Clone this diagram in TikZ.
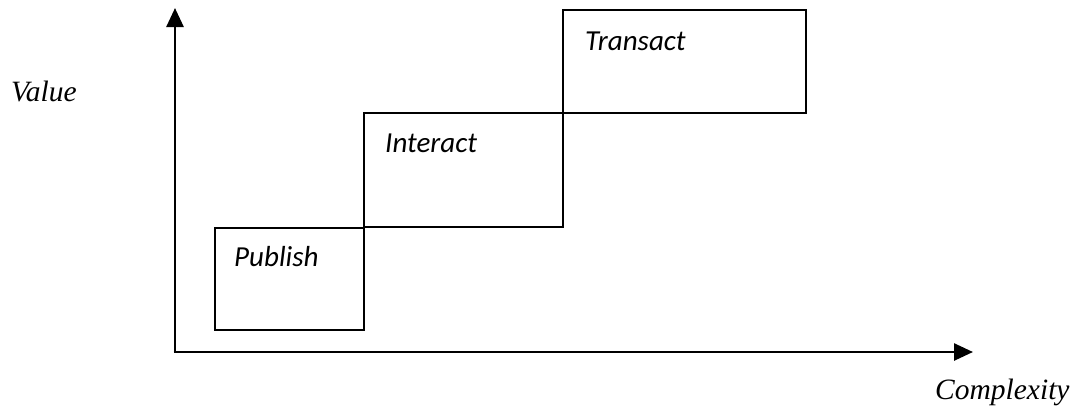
\documentclass[tikz,border=0pt]{standalone}
\usepackage{fontspec}
\setmainfont{Liberation Serif}
\newfontfamily\calib{Carlito}
\usetikzlibrary{arrows.meta}
\begin{document}
\begin{tikzpicture}[x=1pt,y=-1pt,
  axis/.style={line width=2.6pt,-{Triangle[length=19pt,width=17pt]}},
  stage/.style={draw,line width=2pt},
  stagelabel/.style={font=\calib\itshape\fontsize{29}{34}\selectfont,anchor=west,inner sep=0pt},
  axislabel/.style={font=\itshape\fontsize{29.5}{34}\selectfont,anchor=west,inner sep=0pt}]
\useasboundingbox (0,0) rectangle (1075,408);
\coordinate (O) at (175,352);
\coordinate (ytop) at (175,8);
\coordinate (xend) at (973,352);
\draw[stage] (215,228) rectangle (364,330);
\draw[stage] (364,113) rectangle (563,227);
\draw[stage] (563,10) rectangle (806,113);
\node[stagelabel] (pub) at (234,257) {Publish};
\node[stagelabel] (int) at (385,143) {Interact};
\node[stagelabel] (tra) at (585,41) {Transact};
\draw[axis] (O) -- (ytop);
\draw[axis] ([xshift=-1.3pt]O) -- (xend);
\node[axislabel] (val) at (11,91) {Value};
\node[axislabel] (cpx) at (935,392) {Complexity};
\end{tikzpicture}
\end{document}
